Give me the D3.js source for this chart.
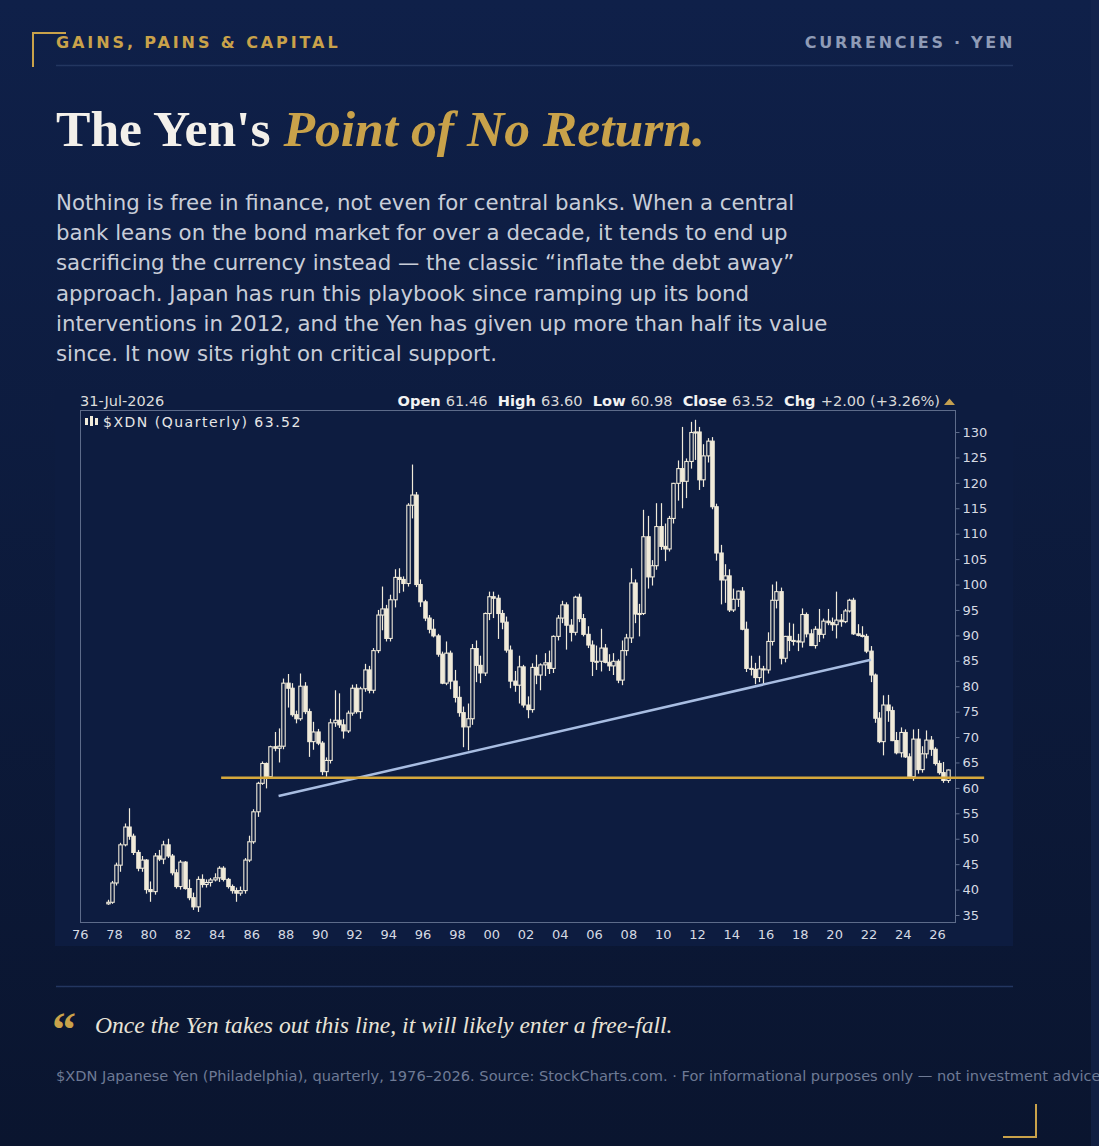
<!DOCTYPE html>
<html>
<head>
<meta charset="utf-8">
<script src="https://cdn.jsdelivr.net/npm/d3@7"></script>
<style>
  html, body { margin: 0; padding: 0; background: #0b1838; overflow: hidden; }
  svg { display: block; }
</style>
</head>
<body>
<svg id="page" width="1099" height="1146"></svg>
<script>
// ---- data: $XDN quarterly candles, one row per year, [Q1, Q2, Q3, Q4] ----
const years = [1977, 1978, 1979, 1980, 1981, 1982, 1983, 1984, 1985, 1986,
  1987, 1988, 1989, 1990, 1991, 1992, 1993, 1994, 1995, 1996,
  1997, 1998, 1999, 2000, 2001, 2002, 2003, 2004, 2005, 2006,
  2007, 2008, 2009, 2010, 2011, 2012, 2013, 2014, 2015, 2016,
  2017, 2018, 2019, 2020, 2021, 2022, 2023, 2024, 2025, 2026];

const opens = [
  [null, null, 37.2, 37.5], [41.3, 44.8, 48.8, 52.3], [50.5, 47.3, 44.2, 45.8], [40.0, 39.6, 46.6, 46.0],
  [48.8, 46.6, 43.3, 40.6], [45.4, 40.2, 38.4, 36.6], [42.0, 41.0, 41.4, 41.9], [42.3, 44.2, 42.0, 40.6],
  [39.8, 39.3, 39.8, 45.8], [49.4, 55.3, 60.9, 64.8], [62.2, 68.1, 67.8, 68.2], [80.6, 79.6, 74.4, 73.6],
  [80.0, 75.0, 69.1, 71.0], [68.8, 63.2, 65.4, 72.8], [73.3, 72.4, 71.2, 74.7], [79.6, 75.0, 79.5, 83.2],
  [79.2, 87.0, 94.0, 95.2], [89.4, 97.0, 101.4, 101.0], [100.2, 115.6, 117.6, 100.0], [96.6, 93.4, 91.2, 89.9],
  [86.3, 80.6, 86.5, 81.0], [77.8, 74.8, 72.0, 73.6], [87.4, 84.1, 82.6, 94.3], [97.6, 97.3, 94.3, 92.6],
  [87.1, 81.0, 80.2, 83.8], [76.3, 75.4, 83.7, 82.2], [84.2, 84.6, 83.5, 89.8], [93.4, 96.0, 92.0, 90.6],
  [97.5, 93.3, 90.2, 88.1], [84.9, 84.9, 87.5, 84.7], [84.0, 84.9, 81.2, 87.0], [89.5, 100.3, 94.2, 94.3],
  [109.4, 101.5, 103.7, 111.4], [107.5, 107.0, 113.0, 119.9], [122.8, 120.3, 124.2, 129.9], [130.0, 120.6, 125.3, 128.2],
  [115.3, 106.2, 100.9, 101.7], [95.0, 97.1, 98.7, 91.2], [83.5, 83.3, 81.7, 83.4], [83.2, 88.8, 96.9, 98.6],
  [85.5, 89.8, 89.0, 88.9], [88.7, 94.1, 90.3, 88.0], [91.2, 90.2, 92.8, 92.5], [92.1, 93.0, 92.7, 94.8],
  [96.9, 90.3, 90.0, 89.8], [86.9, 82.2, 73.7, 69.1], [76.3, 75.2, 69.3, 66.9], [70.9, 66.1, 62.2, 69.6],
  [63.6, 66.7, 69.4, 67.6], [64.8, 63.0, 61.46, null]
];

const highs = [
  [null, null, 38.0, 41.7], [45.3, 49.2, 53.0, 56.0], [51.0, 47.8, 46.6, 46.0], [41.6, 47.2, 47.8, 49.6],
  [50.0, 47.0, 44.0, 45.8], [45.6, 42.0, 39.4, 42.6], [43.0, 42.0, 42.3, 43.2], [44.6, 44.6, 42.3, 41.0],
  [40.4, 40.6, 46.2, 50.6], [55.8, 61.2, 65.2, 65.0], [68.3, 71.0, 71.7, 81.5], [82.4, 80.6, 75.2, 82.5],
  [80.8, 75.6, 73.0, 71.6], [69.2, 66.0, 73.6, 79.2], [78.6, 73.5, 75.2, 80.3], [80.4, 79.9, 84.4, 84.0],
  [87.5, 95.0, 99.6, 96.0], [98.0, 103.0, 103.2, 101.6], [116.0, 123.6, 118.2, 101.0], [97.0, 94.0, 93.2, 90.3],
  [86.8, 88.8, 87.0, 83.2], [80.0, 76.0, 76.6, 88.3], [89.0, 86.0, 94.5, 98.6], [98.6, 98.0, 95.0, 93.7],
  [88.0, 83.0, 86.0, 84.2], [78.0, 84.5, 86.2, 84.5], [86.5, 87.0, 90.0, 94.0], [96.8, 96.5, 93.2, 97.8],
  [98.2, 94.2, 91.8, 89.0], [88.0, 91.3, 88.3, 86.3], [86.5, 85.3, 89.0, 90.3], [103.2, 101.0, 96.2, 114.7],
  [113.5, 104.8, 116.0, 116.0], [112.0, 113.5, 120.0, 124.4], [131.0, 124.8, 132.0, 132.4], [131.0, 127.6, 128.8, 129.0],
  [115.9, 107.8, 104.0, 103.0], [99.2, 98.8, 99.5, 92.7], [86.0, 84.6, 86.0, 84.0], [90.6, 100.0, 100.6, 99.4],
  [89.9, 92.5, 92.3, 90.3], [95.3, 94.5, 91.2, 91.8], [95.2, 93.3, 95.2, 93.5], [98.6, 94.2, 95.2, 97.2],
  [97.4, 92.2, 91.8, 90.3], [87.9, 82.5, 74.9, 78.2], [78.3, 76.0, 71.0, 71.9], [71.5, 66.8, 71.5, 71.6],
  [68.2, 71.3, 70.2, 68.0], [65.4, 65.1, 63.60, null]
];

const lows = [
  [null, null, 37.0, 37.2], [40.8, 43.5, 48.5, 49.8], [46.8, 43.6, 43.5, 39.2], [37.6, 39.0, 45.6, 45.0],
  [46.2, 42.8, 40.2, 40.0], [40.0, 37.9, 36.0, 35.6], [40.4, 40.4, 40.6, 41.6], [41.5, 41.6, 40.2, 39.2],
  [37.6, 38.8, 39.2, 45.4], [49.0, 54.3, 60.6, 59.9], [61.8, 67.2, 65.0, 67.6], [75.8, 74.0, 72.7, 73.2],
  [74.5, 66.1, 67.5, 68.4], [62.5, 62.2, 64.8, 72.0], [71.8, 69.7, 70.8, 74.2], [74.6, 73.6, 78.9, 78.6],
  [78.6, 86.5, 91.0, 88.8], [88.8, 95.5, 98.3, 98.6], [99.6, 113.0, 99.5, 95.6], [92.8, 90.4, 89.6, 85.8],
  [80.4, 80.2, 79.4, 76.8], [74.0, 68.0, 67.4, 72.4], [80.8, 80.6, 82.0, 93.0], [93.4, 89.3, 91.2, 86.6],
  [79.6, 78.9, 76.6, 75.8], [73.7, 74.8, 80.4, 79.2], [82.0, 82.4, 82.6, 89.0], [92.4, 87.2, 88.8, 90.0],
  [92.6, 89.8, 87.5, 82.0], [83.2, 82.9, 84.5, 83.0], [82.2, 80.6, 80.2, 86.0], [88.5, 92.4, 89.8, 94.0],
  [99.2, 99.8, 102.9, 106.8], [104.6, 106.5, 112.0, 116.5], [115.0, 117.0, 122.8, 124.5], [118.6, 119.2, 124.0, 114.8],
  [104.7, 96.1, 96.4, 94.6], [94.6, 95.6, 91.0, 82.8], [82.1, 80.4, 80.8, 80.3], [82.5, 88.0, 95.3, 84.3],
  [84.7, 86.9, 88.0, 86.9], [87.6, 89.6, 87.9, 87.4], [88.7, 89.4, 92.0, 90.9], [89.4, 91.7, 92.4, 94.5],
  [90.1, 89.8, 89.6, 86.5], [80.8, 72.8, 68.8, 66.4], [73.0, 69.2, 66.6, 66.0], [65.9, 62.1, 61.4, 62.8],
  [63.0, 65.8, 66.3, 64.4], [62.6, 61.0, 60.98, null]
];

const closes = [
  [null, null, 37.5, 41.3], [44.8, 48.8, 52.3, 50.5], [47.3, 44.2, 45.8, 40.0], [39.6, 46.6, 46.0, 48.8],
  [46.6, 43.3, 40.6, 45.4], [40.2, 38.4, 36.6, 42.0], [41.0, 41.4, 41.9, 42.3], [44.2, 42.0, 40.6, 39.8],
  [39.3, 39.8, 45.8, 49.4], [55.3, 60.9, 64.8, 62.2], [68.1, 67.8, 68.2, 80.6], [79.6, 74.4, 73.6, 80.0],
  [75.0, 69.1, 71.0, 68.8], [63.2, 65.4, 72.8, 73.3], [72.4, 71.2, 74.7, 79.6], [75.0, 79.5, 83.2, 79.2],
  [87.0, 94.0, 95.2, 89.4], [97.0, 101.4, 101.0, 100.2], [115.6, 117.6, 100.0, 96.6], [93.4, 91.2, 89.9, 86.3],
  [80.6, 86.5, 81.0, 77.8], [74.8, 72.0, 73.6, 87.4], [84.1, 82.6, 94.3, 97.6], [97.3, 94.3, 92.6, 87.1],
  [81.0, 80.2, 83.8, 76.3], [75.4, 83.7, 82.2, 84.2], [84.6, 83.5, 89.8, 93.4], [96.0, 92.0, 90.6, 97.5],
  [93.3, 90.2, 88.1, 84.9], [84.9, 87.5, 84.7, 84.0], [84.9, 81.2, 87.0, 89.5], [100.3, 94.2, 94.3, 109.4],
  [101.5, 103.7, 111.4, 107.5], [107.0, 113.0, 119.9, 122.8], [120.3, 124.2, 129.9, 130.0], [120.6, 125.3, 128.2, 115.3],
  [106.2, 100.9, 101.7, 95.0], [97.1, 98.7, 91.2, 83.5], [83.3, 81.7, 83.4, 83.2], [88.8, 96.9, 98.6, 85.5],
  [89.8, 89.0, 88.9, 88.7], [94.1, 90.3, 88.0, 91.2], [90.2, 92.8, 92.5, 92.1], [93.0, 92.7, 94.8, 96.9],
  [90.3, 90.0, 89.8, 86.9], [82.2, 73.7, 69.1, 76.3], [75.2, 69.3, 66.9, 70.9], [66.1, 62.2, 69.6, 63.6],
  [66.7, 69.4, 67.6, 64.8], [63.0, 61.46, 63.52, null]
];

// axis ticks
const yTicks = [35, 40, 45, 50, 55, 60, 65, 70, 75, 80, 85, 90, 95, 100, 105, 110, 115, 120, 125, 130];
const xTickYears = [1976, 1978, 1980, 1982, 1984, 1986, 1988, 1990, 1992, 1994, 1996, 1998, 2000,
  2002, 2004, 2006, 2008, 2010, 2012, 2014, 2016, 2018, 2020, 2022, 2024, 2026];
const xTickLabels = ["76", "78", "80", "82", "84", "86", "88", "90", "92", "94", "96", "98", "00",
  "02", "04", "06", "08", "10", "12", "14", "16", "18", "20", "22", "24", "26"];

// drawn annotations: [year, value] end points
const supportLine = [[1984.25, 62], [2028.75, 62]];
const trendLine = [[1987.6, 58.4], [2022.15, 85.2]];

const quoteLine = [["Open", "61.46"], ["High", "63.60"], ["Low", "60.98"], ["Close", "63.52"], ["Chg", "+2.00 (+3.26%)"]];

const bodyText = [
  "Nothing is free in finance, not even for central banks. When a central",
  "bank leans on the bond market for over a decade, it tends to end up",
  "sacrificing the currency instead \u2014 the classic \u201cinflate the debt away\u201d",
  "approach. Japan has run this playbook since ramping up its bond",
  "interventions in 2012, and the Yen has given up more than half its value",
  "since. It now sits right on critical support."
];

// ---- page ----
const W = 1099, H = 1146;
const gold = '#c9a24a';
const cream = '#f0ead9';
const panelBg = '#0d1c40';
const svg = d3.select('#page');

const defs = svg.append('defs');
const bg = defs.append('linearGradient').attr('id', 'bg')
  .attr('x1', 0).attr('y1', 0).attr('x2', 0).attr('y2', 1);
bg.append('stop').attr('offset', '0%').attr('stop-color', '#0f2049');
bg.append('stop').attr('offset', '100%').attr('stop-color', '#0a152f');
svg.append('rect').attr('width', W).attr('height', H).attr('fill', 'url(#bg)');
svg.append('rect').attr('x', 1091).attr('width', 8).attr('height', H).attr('fill', '#15264f').attr('opacity', 0.6);

// corner marks
svg.append('path').attr('d', 'M33,67 V33 H66').attr('fill', 'none').attr('stroke', gold).attr('stroke-width', 2);
svg.append('path').attr('d', 'M1036,1104 V1137 H1003').attr('fill', 'none').attr('stroke', gold).attr('stroke-width', 2);

// header
svg.append('text').attr('x', 56).attr('y', 48)
  .attr('font-family', 'DejaVu Sans').attr('font-weight', 'bold').attr('font-size', 16)
  .attr('letter-spacing', 2.9).attr('fill', gold)
  .text('GAINS, PAINS & CAPITAL');
svg.append('text').attr('x', 1015).attr('y', 48).attr('text-anchor', 'end')
  .attr('font-family', 'DejaVu Sans').attr('font-weight', 'bold').attr('font-size', 16)
  .attr('letter-spacing', 2.7).attr('fill', '#8f9bb6')
  .text('CURRENCIES \u00b7 YEN');
svg.append('line').attr('x1', 56).attr('x2', 1013).attr('y1', 65.5).attr('y2', 65.5)
  .attr('stroke', '#233660').attr('stroke-width', 1.5);

// title
const title = svg.append('text').attr('x', 56).attr('y', 146)
  .attr('font-family', 'Liberation Serif').attr('font-weight', 'bold').attr('font-size', 51.6);
title.append('tspan').attr('fill', '#f3f0ea').text("The Yen's ");
title.append('tspan').attr('fill', gold).attr('font-style', 'italic').text('Point of No Return.');

// paragraph
svg.append('g').selectAll('text').data(bodyText).join('text')
  .attr('x', 56).attr('y', (d, i) => 210 + i * 30.2)
  .attr('font-family', 'DejaVu Sans').attr('font-size', 21.3).attr('fill', '#c8cdd8')
  .text(d => d);

// ---- chart ----
const frame = { left: 80, right: 955, top: 410, bottom: 922 };
svg.append('rect').attr('x', 55).attr('y', 390).attr('width', 958).attr('height', 556).attr('fill', panelBg);

const x = d3.scaleLinear().domain([1976, 2027.05]).range([79.7, 955]);
const y = d3.scaleLinear().domain([35, 130]).range([915, 432]);

// flatten the yearly rows into candles
const candles = [];
years.forEach((yr, i) => {
  for (let q = 0; q < 4; q++) {
    if (closes[i][q] == null) continue;
    candles.push({ t: yr + q * 0.25 + 0.125, o: opens[i][q], h: highs[i][q], l: lows[i][q], c: closes[i][q] });
  }
});

const chart = svg.append('g');
const chartFont = 'DejaVu Sans';

// header strip
chart.append('text').attr('x', 80).attr('y', 406)
  .attr('font-family', chartFont).attr('font-size', 14.5).attr('fill', '#dcdcdc')
  .text('31-Jul-2026');
const ohlc = chart.append('text').attr('x', 940).attr('y', 406).attr('text-anchor', 'end')
  .attr('font-family', chartFont).attr('font-size', 14.6).attr('fill', '#d8d8d8');
quoteLine.forEach((d, i) => {
  ohlc.append('tspan').attr('font-weight', 'bold').attr('fill', '#f2f2f2').text((i ? '\u00a0\u00a0' : '') + d[0] + ' ');
  ohlc.append('tspan').text(d[1]);
});
chart.append('path').attr('d', 'M944,405 L949.5,398.5 L955,405 Z').attr('fill', '#c4a050');

// frame
chart.append('rect')
  .attr('x', frame.left + 0.5).attr('y', frame.top + 0.5)
  .attr('width', frame.right - frame.left).attr('height', frame.bottom - frame.top)
  .attr('fill', 'none').attr('stroke', '#5d6b8a');

// symbol label with a little candle icon
const icon = chart.append('g').attr('fill', cream);
icon.append('rect').attr('x', 85).attr('y', 418).attr('width', 3).attr('height', 7);
icon.append('rect').attr('x', 90).attr('y', 416).attr('width', 3).attr('height', 10);
icon.append('rect').attr('x', 95).attr('y', 418).attr('width', 3).attr('height', 7);
chart.append('text').attr('x', 103).attr('y', 427)
  .attr('font-family', chartFont).attr('font-size', 14).attr('letter-spacing', 1.5).attr('fill', '#e6e6e6')
  .text('$XDN (Quarterly) 63.52');

// axes
const yAxis = chart.append('g').attr('transform', `translate(${frame.right + 0.5},0)`)
  .call(d3.axisRight(y).tickValues(yTicks).tickSize(4).tickPadding(3));
const xAxis = chart.append('g').attr('transform', `translate(0,${frame.bottom + 0.5})`)
  .call(d3.axisBottom(x).tickValues(xTickYears).tickFormat((d, i) => xTickLabels[i]).tickSize(0).tickPadding(7));
[yAxis, xAxis].forEach(a => {
  a.select('.domain').remove();
  a.selectAll('line').attr('stroke', '#5d6b8a');
  a.selectAll('text').attr('font-family', chartFont).attr('font-size', 13).attr('fill', '#d6dae3');
});

// candles
const cg = chart.append('g');
const bodyW = 3.4;
cg.selectAll('line.wick').data(candles).join('line').attr('class', 'wick')
  .attr('x1', d => Math.round(x(d.t)) + 0.5).attr('x2', d => Math.round(x(d.t)) + 0.5)
  .attr('y1', d => y(d.h)).attr('y2', d => y(d.l))
  .attr('stroke', cream).attr('stroke-width', 1.2);
cg.selectAll('rect.body').data(candles).join('rect').attr('class', 'body')
  .attr('x', d => Math.round(x(d.t)) + 0.5 - bodyW / 2)
  .attr('y', d => y(Math.max(d.o, d.c)))
  .attr('width', bodyW)
  .attr('height', d => Math.max(1, Math.abs(y(d.o) - y(d.c))))
  .attr('fill', d => d.c >= d.o ? panelBg : cream)
  .attr('stroke', cream).attr('stroke-width', 1.1);

// annotations
const line = d3.line().x(d => x(d[0])).y(d => y(d[1]));
chart.append('path').datum(trendLine).attr('d', line)
  .attr('fill', 'none').attr('stroke', '#a8bde2').attr('stroke-width', 2.5);
chart.append('path').datum(supportLine).attr('d', line)
  .attr('fill', 'none').attr('stroke', '#d6a83c').attr('stroke-width', 2.5);

// ---- footer ----
svg.append('line').attr('x1', 56).attr('x2', 1013).attr('y1', 986.5).attr('y2', 986.5)
  .attr('stroke', '#233660').attr('stroke-width', 1.5);
svg.append('text').attr('x', 52).attr('y', 1046)
  .attr('font-family', 'Liberation Serif').attr('font-weight', 'bold').attr('font-size', 48).attr('fill', gold)
  .text('\u201c');
svg.append('text').attr('x', 95).attr('y', 1033)
  .attr('font-family', 'Liberation Serif').attr('font-style', 'italic').attr('font-size', 23.6).attr('fill', '#e8e3d7')
  .text('Once the Yen takes out this line, it will likely enter a free-fall.');
svg.append('text').attr('x', 56).attr('y', 1081)
  .attr('font-family', 'DejaVu Sans').attr('font-size', 14.6).attr('fill', '#6e7a95')
  .text('$XDN Japanese Yen (Philadelphia), quarterly, 1976\u20132026. Source: StockCharts.com. \u00b7 For informational purposes only \u2014 not investment advice.');
</script>
</body>
</html>
